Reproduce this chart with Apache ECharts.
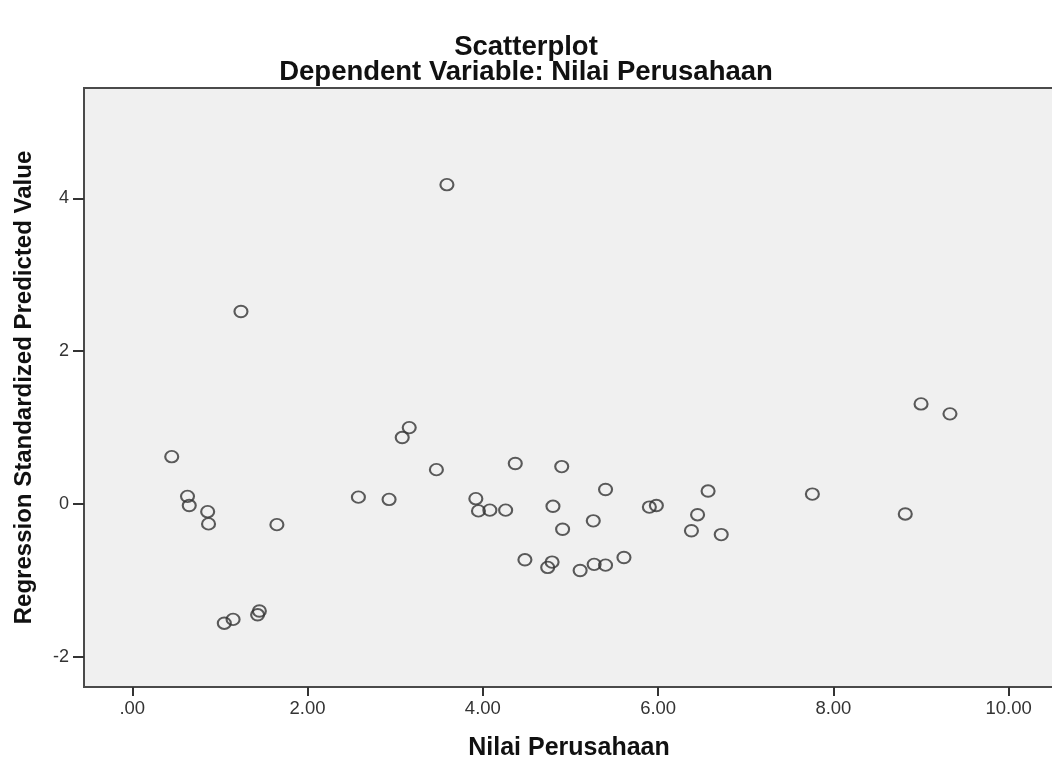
<!DOCTYPE html>
<html>
<head>
<meta charset="utf-8">
<title>Scatterplot</title>
<script src="https://cdn.jsdelivr.net/npm/echarts@6/dist/echarts.min.js"></script>
<style>
  html, body { margin: 0; padding: 0; background: #ffffff; }
  #chart { width: 1052px; height: 763px; }
</style>
</head>
<body>
<div id="chart"></div>
<script>
// Nilai Perusahaan (x) against the regression standardized predicted value (y)
const nilaiPerusahaan = [
  0.45, 0.63, 0.65, 0.86, 0.87, 1.24, 1.05, 1.15, 1.43, 1.45,
  1.65, 2.58, 2.93, 3.08, 3.16, 3.47, 3.59, 3.92, 3.95, 4.08,
  4.26, 4.37, 4.48, 4.74, 4.79, 4.80, 4.90, 4.91, 5.11, 5.27,
  5.26, 5.40, 5.40, 5.61, 5.90, 5.98, 6.38, 6.45, 6.57, 6.72,
  7.76, 8.82, 9.00, 9.33
];
const predictedValue = [
  0.62, 0.10, -0.02, -0.10, -0.26, 2.52, -1.56, -1.51, -1.45, -1.40,
  -0.27, 0.09, 0.06, 0.87, 1.00, 0.45, 4.18, 0.07, -0.09, -0.08,
  -0.08, 0.53, -0.73, -0.83, -0.76, -0.03, 0.49, -0.33, -0.87, -0.79,
  -0.22, -0.80, 0.19, -0.70, -0.04, -0.02, -0.35, -0.14, 0.17, -0.40,
  0.13, -0.13, 1.31, 1.18
];
const xTickValues = [0, 2, 4, 6, 8, 10];
const yTickValues = [-2, 0, 2, 4];

const chartTitle = 'Scatterplot';
const chartSubtitle = 'Dependent Variable: Nilai Perusahaan';
const xAxisName = 'Nilai Perusahaan';
const yAxisName = 'Regression Standardized Predicted Value';

const points = nilaiPerusahaan.map((x, i) => [x, predictedValue[i]]);

const fontFamily = '"Liberation Sans", Arial, sans-serif';

const chart = echarts.init(document.getElementById('chart'), null, { renderer: 'canvas' });

chart.setOption({
  backgroundColor: '#ffffff',
  animation: false,
  title: [
    {
      text: chartTitle,
      left: 'center',
      top: 33,
      padding: 0,
      textStyle: { fontFamily, fontSize: 27.5, fontWeight: 'bold', color: '#111111' }
    },
    {
      text: chartSubtitle,
      left: 'center',
      top: 58,
      padding: 0,
      textStyle: { fontFamily, fontSize: 27.5, fontWeight: 'bold', color: '#111111' }
    }
  ],
  grid: {
    left: 84,
    top: 88,
    width: 970,
    height: 599,
    outerBoundsMode: 'none',
    containLabel: false,
    show: true,
    backgroundColor: '#f0f0f0',
    borderColor: '#4a4a4a',
    borderWidth: 2
  },
  xAxis: {
    type: 'value',
    min: -0.551,
    max: 10.517,
    name: xAxisName,
    nameLocation: 'middle',
    nameGap: 49,
    nameTextStyle: { fontFamily, fontSize: 25, fontWeight: 'bold', color: '#111111' },
    axisLine: { show: false, onZero: false },
    splitLine: { show: false },
    axisTick: {
      show: true,
      length: 9,
      customValues: xTickValues,
      lineStyle: { color: '#333333', width: 2 }
    },
    axisLabel: {
      customValues: xTickValues,
      margin: 12,
      fontFamily,
      fontSize: 18.5,
      color: '#333333',
      formatter: v => (v === 0 ? '.00' : v.toFixed(2))
    }
  },
  yAxis: {
    type: 'value',
    min: -2.395,
    max: 5.445,
    name: yAxisName,
    nameLocation: 'middle',
    nameGap: 48,
    nameRotate: 90,
    nameTextStyle: { fontFamily, fontSize: 24, fontWeight: 'bold', color: '#111111' },
    axisLine: { show: false, onZero: false },
    splitLine: { show: false },
    axisTick: {
      show: true,
      length: 11,
      customValues: yTickValues,
      lineStyle: { color: '#333333', width: 2 }
    },
    axisLabel: {
      customValues: yTickValues,
      margin: 15,
      fontFamily,
      fontSize: 18,
      color: '#333333'
    }
  },
  series: [
    {
      type: 'scatter',
      data: points,
      symbol: 'circle',
      symbolSize: [13, 11.5],
      itemStyle: {
        color: 'rgba(0,0,0,0)',
        borderColor: '#333333',
        borderWidth: 2
      },
      emphasis: { disabled: true }
    }
  ]
});
</script>
</body>
</html>
